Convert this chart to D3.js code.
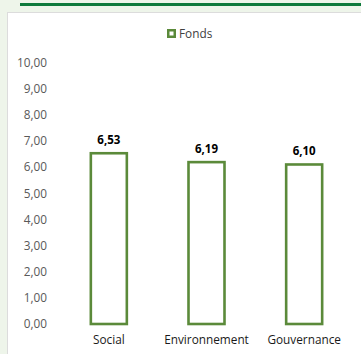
<!DOCTYPE html>
<html>
<head>
<meta charset="utf-8">
<script src="https://cdn.jsdelivr.net/npm/d3@7"></script>
<style>
  html, body { margin: 0; padding: 0; background: #eef5ea; }
  svg { display: block; }
</style>
</head>
<body>
<svg id="chart" width="361" height="354"></svg>
<script>
// ESG scores of the fund, per pillar
const categories = ["Social", "Environnement", "Gouvernance"];
const fondsValues = [6.53, 6.19, 6.10];
const yTicks = [0, 1, 2, 3, 4, 5, 6, 7, 8, 9, 10];
const seriesName = "Fonds";

const W = 361, H = 354;
const green = "#5b8a3a";
const fmt = v => d3.format(".2f")(v).replace(".", ",");
const font = "'Open Sans', Lato, sans-serif";

const svg = d3.select("#chart");

// Header rule and white chart panel
svg.append("rect").attr("x", 20).attr("y", 3).attr("width", W - 20).attr("height", 3)
  .attr("fill", "#0e7a3c");
svg.append("rect").attr("x", 7.5).attr("y", 12.5).attr("width", W).attr("height", H)
  .attr("fill", "#ffffff").attr("stroke", "#dcdcdc").attr("stroke-width", 1);

const x = d3.scaleBand().domain(categories).range([60, 353]).paddingInner(0.6).paddingOuter(0.3);
const y = d3.scaleLinear().domain([0, 10]).range([324, 62.5]);

// Y axis labels (no line, no ticks)
const yAxis = d3.axisLeft(y).tickValues(yTicks).tickFormat(fmt).tickSize(0).tickPadding(0);
const gy = svg.append("g").attr("transform", "translate(47,0)").call(yAxis);
gy.select(".domain").remove();
gy.selectAll("text").attr("font-family", font).attr("font-size", 11.8).attr("fill", "#595959");

// X axis labels
const xAxis = d3.axisBottom(x).tickSize(0).tickPadding(0);
const gx = svg.append("g").attr("transform", "translate(0,336)").call(xAxis);
gx.select(".domain").remove();
gx.selectAll("text").attr("font-family", font).attr("font-size", 11.8).attr("fill", "#1a1a1a");

// Outlined bars
const bw = 36;
svg.append("g").selectAll("rect").data(fondsValues).join("rect")
  .attr("x", (d, i) => x(categories[i]) + x.bandwidth() / 2 - bw / 2)
  .attr("y", d => y(d))
  .attr("width", bw)
  .attr("height", d => y(0) - y(d))
  .attr("fill", "#ffffff")
  .attr("stroke", green)
  .attr("stroke-width", 2.6);

// Value labels
svg.append("g").selectAll("text").data(fondsValues).join("text")
  .attr("x", (d, i) => x(categories[i]) + x.bandwidth() / 2)
  .attr("y", d => y(d) - 9.5)
  .attr("text-anchor", "middle")
  .attr("font-family", font).attr("font-size", 11.5).attr("font-weight", "bold")
  .attr("fill", "#000000")
  .text(d => fmt(d));

// Legend
const lg = svg.append("g").attr("transform", "translate(167,29)");
lg.append("rect").attr("x", 1.25).attr("y", 1.25).attr("width", 6.5).attr("height", 6.5)
  .attr("fill", "#ffffff").attr("stroke", green).attr("stroke-width", 2.5);
lg.append("text").attr("x", 12).attr("y", 8.9)
  .attr("font-family", font).attr("font-size", 11.8).attr("fill", "#404040")
  .text(seriesName);
</script>
</body>
</html>
